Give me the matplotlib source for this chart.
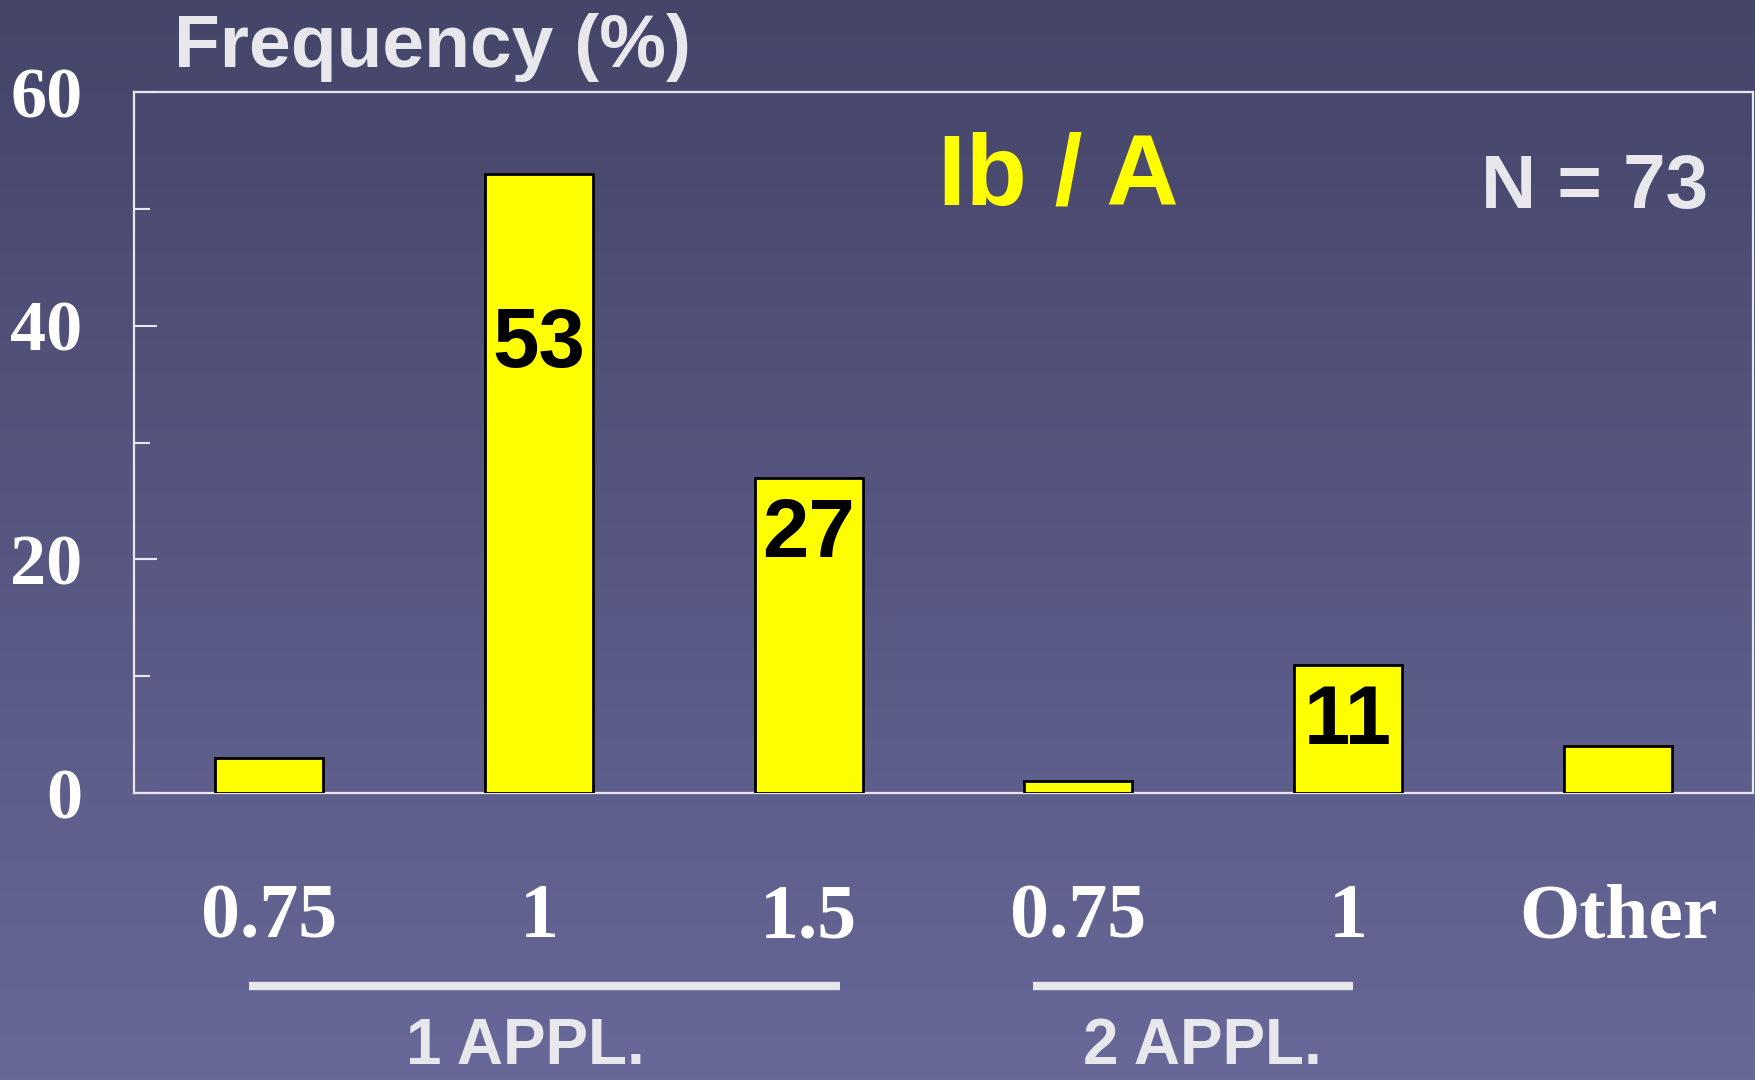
import numpy as np
import matplotlib
matplotlib.use('Agg')
import matplotlib.pyplot as plt
from matplotlib.colors import LinearSegmentedColormap
from matplotlib.ticker import MultipleLocator

# dose groups, frequency in percent
categories = ['0.75', '1', '1.5', '0.75', '1', 'Other']
frequency = [3, 53, 27, 1, 11, 4]
shown_labels = {1: '53', 2: '27', 4: '11'}
groups = ['1 APPL.', '2 APPL.']
y_ticks = [0, 20, 40, 60]

fg = '#e8e8ec'

fig = plt.figure(figsize=(17.56, 10.8), dpi=100)

# background gradient
bg = fig.add_axes([0, 0, 1, 1], zorder=-10)
cmap = LinearSegmentedColormap.from_list('bg', ['#45456a', '#686899'])
bg.imshow(np.linspace(0, 1, 256).reshape(-1, 1), aspect='auto', cmap=cmap,
          extent=[0, 1, 0, 1])
bg.axis('off')

ax = fig.add_axes([0.0763, 0.2657, 0.922, 0.6491])
ax.set_facecolor('none')
x = np.arange(len(categories))
ax.bar(x, frequency, width=0.40, color='#ffff00', edgecolor='black', linewidth=2, zorder=3)

for i, lab in shown_labels.items():
    ax.text(x[i], frequency[i] - (16.5 if frequency[i] > 50 else 6.8), lab,
            ha='center', va='baseline', fontsize=60, fontweight='bold',
            family='Liberation Sans', color='black', zorder=4)

ax.set_xlim(-0.5, 5.5)
ax.set_ylim(0, 60)
ax.set_xticks(x)
ax.set_xticklabels(categories, family='Liberation Serif', fontweight='bold',
                   fontsize=56, color='white')
ax.set_yticks(y_ticks)
ax.set_yticklabels([str(v) for v in y_ticks], family='Liberation Serif',
                   fontweight='bold', fontsize=52, color='white')
ax.yaxis.set_minor_locator(MultipleLocator(10))
ax.tick_params(axis='x', length=0, pad=65)
ax.tick_params(axis='y', which='major', direction='in', length=16.5, width=1.5,
               color=fg, pad=37)
ax.tick_params(axis='y', which='minor', direction='in', length=11.5, width=1.5,
               color=fg)
for s in ax.spines.values():
    s.set_color(fg)
    s.set_linewidth(1.6)

# group underlines and names
tr = ax.get_xaxis_transform()
spans = [(-0.075, 2.116), (2.83, 4.017)]
name_x = [0.95, 3.46]
for (x0, x1), cx, name in zip(spans, name_x, groups):
    ax.plot([x0, x1], [-0.275, -0.275], transform=tr, color=fg, lw=6,
            solid_capstyle='butt', clip_on=False)
    ax.text(cx, -0.386, name, transform=tr, ha='center', va='baseline',
            fontsize=46, fontweight='bold', family='Liberation Sans', color=fg)

ax.text(0.571, 0.876, 'Ib / A', transform=ax.transAxes, ha='center', va='center',
        fontsize=72, fontweight='bold', family='Liberation Sans', color='#ffff00')
ax.text(0.9024, 0.862, 'N = 73', transform=ax.transAxes, ha='center', va='center',
        fontsize=55, fontweight='bold', family='Liberation Sans', color=fg)

fig.text(0.0991, 0.938, 'Frequency (%)', ha='left', va='baseline', fontsize=54,
         fontweight='bold', family='Liberation Sans', color=fg)

fig.savefig('out.png', dpi=100)
